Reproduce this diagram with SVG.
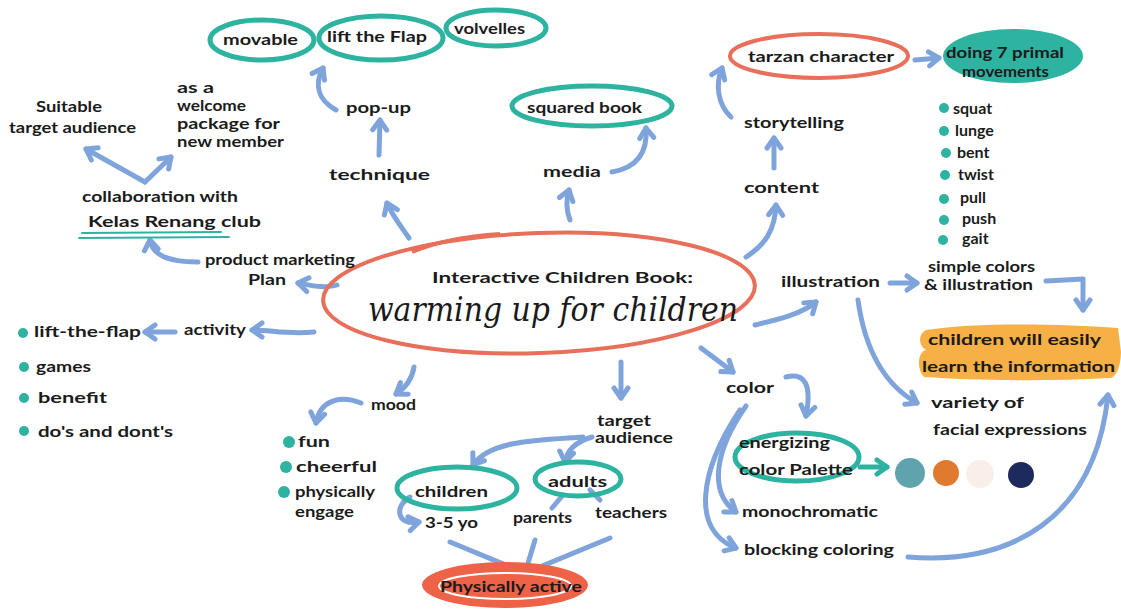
<svg xmlns="http://www.w3.org/2000/svg" width="1121" height="610" viewBox="0 0 1121 610">
<defs>
<style>
.t{font-family:Lato,"Open Sans","Liberation Sans",sans-serif;fill:#1b1b1b;font-size:16px;font-weight:700;}
.s{font-family:"DejaVu Serif","Liberation Serif",serif;font-style:italic;fill:#1b1b1b;}
.a{fill:none;stroke:#7fa3db;stroke-width:5;stroke-linecap:round;stroke-linejoin:round;marker-end:url(#ah);}
.l{fill:none;stroke:#7fa3db;stroke-width:5;stroke-linecap:round;}
.teal{fill:none;stroke:#2db3a0;stroke-width:5;}
.red{fill:none;stroke:#e8705a;stroke-width:4;}
.dot{fill:#2db3a0;}
</style>
<marker id="ah" viewBox="0 0 20 20" refX="14" refY="10" markerWidth="20" markerHeight="20" markerUnits="userSpaceOnUse" orient="auto">
<path d="M4,3 L14,10 L4,17" fill="none" stroke="#7fa3db" stroke-width="5" stroke-linecap="round" stroke-linejoin="round"/>
</marker>
<marker id="aht" viewBox="0 0 20 20" refX="14" refY="10" markerWidth="20" markerHeight="20" markerUnits="userSpaceOnUse" orient="auto">
<path d="M4,3 L14,10 L4,17" fill="none" stroke="#2db3a0" stroke-width="5" stroke-linecap="round" stroke-linejoin="round"/>
</marker>
</defs>
<rect width="1121" height="610" fill="#ffffff"/>

<g id="connectors">
<path class="a" d="M409,238 C400,225 392,215 387,203"/>
<path class="a" d="M379,155 L380,120"/>
<path class="a" d="M336,110 C318,100 314,85 323,68"/>
<path class="a" d="M570,220 C566,210 566,200 569,190"/>
<path class="a" d="M612,172 C635,168 648,155 646,128"/>
<path class="a" d="M746,257 C765,245 775,230 776,205"/>
<path class="a" d="M774,168 L774,138"/>
<path class="a" d="M731,117 C718,105 715,85 722,68"/>
<path class="a" d="M915,60 L939,58"/>
<path class="a" d="M755,325 C775,320 800,315 816,302"/>
<path class="a" d="M890,283 L917,283"/>
<path class="a" d="M1046,281 L1083,279 L1083,310"/>
<path class="a" d="M858,300 C865,350 885,385 917,403"/>
<path class="a" d="M908,557 C1010,565 1095,520 1108,395"/>
<path class="a" d="M701,348 L733,372"/>
<path class="a" d="M786,377 C805,372 812,385 806,416"/>
<path d="M860,467 L887,467" fill="none" stroke="#2db3a0" stroke-width="5" stroke-linecap="round" marker-end="url(#aht)"/>
<path class="a" d="M746,406 C715,450 708,492 736,512"/>
<path class="a" d="M740,410 C700,470 690,530 736,548"/>
<path class="a" d="M621,362 L621,398"/>
<path class="a" d="M583,437 C540,440 490,440 473,465"/>
<path class="a" d="M592,437 C575,442 567,450 565,462"/>
<path class="a" d="M410,497 C395,505 395,526 419,522"/>
<path class="l" d="M563,495 L552,508"/>
<path class="l" d="M590,490 L600,500"/>
<path class="l" d="M450,542 L525,573 L610,538"/>
<path class="l" d="M535,540 L525,573"/>
<path class="a" d="M414,367 C412,380 405,388 396,394"/>
<path class="a" d="M361,403 C340,395 320,400 316,423"/>
<path class="a" d="M314,332 C290,335 270,330 252,330"/>
<path class="a" d="M175,332 L145,332"/>
<path class="a" d="M337,285 C325,289 310,285 298,283"/>
<path class="a" d="M198,262 C170,262 152,255 150,240"/>
<path class="a" d="M145,182 L86,149"/>
<path class="a" d="M145,182 L171,157"/>
</g>

<g id="central">
<ellipse cx="539" cy="293" rx="216" ry="60" transform="rotate(-2 539 293)" class="red"/>
<path d="M412,252 C440,240 470,236 500,234" class="red" stroke-width="3"/>
<text class="t" x="432" y="283" font-size="20" font-weight="400" textLength="261" lengthAdjust="spacingAndGlyphs">Interactive Children Book:</text>
<text class="s" x="368" y="321" font-size="34" textLength="370" lengthAdjust="spacingAndGlyphs">warming up for children</text>
</g>

<g id="movable"><ellipse cx="262" cy="40" rx="52" ry="20" class="teal"/><text class="t" x="223" y="45" font-size="17" textLength="75" lengthAdjust="spacingAndGlyphs">movable</text></g>
<g id="lift-the-flap"><ellipse cx="381" cy="38" rx="62" ry="22" class="teal"/><text class="t" x="327" y="42" textLength="100" lengthAdjust="spacingAndGlyphs">lift the Flap</text></g>
<g id="volvelles"><ellipse cx="496" cy="28" rx="50" ry="18" class="teal"/><text class="t" x="454" y="34" textLength="71" lengthAdjust="spacingAndGlyphs">volvelles</text></g>
<g id="pop-up"><text class="t" x="346" y="113" font-size="18" textLength="65" lengthAdjust="spacingAndGlyphs">pop-up</text></g>
<g id="technique"><text class="t" x="329" y="180" font-size="23" font-weight="400" textLength="101" lengthAdjust="spacingAndGlyphs">technique</text></g>

<g id="squared-book"><ellipse cx="592" cy="106" rx="80" ry="20" class="teal"/><text class="t" x="527" y="113" font-size="17" textLength="115" lengthAdjust="spacingAndGlyphs">squared book</text></g>
<g id="media"><text class="t" x="543" y="177" font-size="21" font-weight="400" textLength="58" lengthAdjust="spacingAndGlyphs">media</text></g>

<g id="tarzan"><ellipse cx="819" cy="56" rx="89" ry="22" class="red" stroke-width="5"/><text class="t" x="748" y="62" font-size="17" textLength="146" lengthAdjust="spacingAndGlyphs">tarzan character</text></g>
<g id="primal"><ellipse cx="1013" cy="56" rx="70" ry="27" fill="#2db3a0"/><text class="t" x="946" y="58" font-size="15" textLength="118" lengthAdjust="spacingAndGlyphs">doing 7 primal</text><text class="t" x="962" y="77" font-size="14" textLength="87" lengthAdjust="spacingAndGlyphs">movements</text></g>
<g id="storytelling"><text class="t" x="744" y="128" textLength="100" lengthAdjust="spacingAndGlyphs">storytelling</text></g>
<g id="content"><text class="t" x="744" y="193" font-size="21" font-weight="400" textLength="75" lengthAdjust="spacingAndGlyphs">content</text></g>

<g id="movements-list">
<circle class="dot" cx="944" cy="108" r="5"/><text class="t" x="953" y="114">squat</text>
<circle class="dot" cx="944" cy="131" r="5"/><text class="t" x="955" y="136">lunge</text>
<circle class="dot" cx="946" cy="153" r="5"/><text class="t" x="957" y="158">bent</text>
<circle class="dot" cx="945" cy="175" r="5"/><text class="t" x="958" y="180">twist</text>
<circle class="dot" cx="944" cy="199" r="5"/><text class="t" x="960" y="203">pull</text>
<circle class="dot" cx="944" cy="220" r="5"/><text class="t" x="962" y="224">push</text>
<circle class="dot" cx="943" cy="240" r="5"/><text class="t" x="962" y="244">gait</text>
</g>

<g id="illustration"><text class="t" x="781" y="287" font-size="18" textLength="99" lengthAdjust="spacingAndGlyphs">illustration</text></g>
<g id="simple-colors"><text class="t" x="928" y="272" font-size="15" textLength="107" lengthAdjust="spacingAndGlyphs">simple colors</text><text class="t" x="924" y="290" font-size="15" textLength="109" lengthAdjust="spacingAndGlyphs">&amp; illustration</text></g>
<g id="learn-easily">
<path d="M926,330 C980,322 1060,324 1118,328 L1121,352 C1121,352 1121,376 1110,378 C1040,382 970,380 924,377 C916,368 918,352 926,350 C918,345 918,334 926,330 Z" fill="#f6b046"/>
<text class="t" x="928" y="345" font-size="17" textLength="173" lengthAdjust="spacingAndGlyphs">children will easily</text>
<text class="t" x="922" y="372" font-size="17" textLength="193" lengthAdjust="spacingAndGlyphs">learn the information</text>
</g>
<g id="variety"><text class="t" x="931" y="408" font-size="17" textLength="93" lengthAdjust="spacingAndGlyphs">variety of</text><text class="t" x="933" y="435" font-size="17" textLength="154" lengthAdjust="spacingAndGlyphs">facial expressions</text></g>

<g id="color"><text class="t" x="726" y="393" font-size="20" textLength="48" lengthAdjust="spacingAndGlyphs">color</text></g>
<g id="energizing"><ellipse cx="797" cy="457" rx="62" ry="24" class="teal"/><text class="t" x="739" y="448" textLength="91" lengthAdjust="spacingAndGlyphs">energizing</text><text class="t" x="739" y="475" textLength="114" lengthAdjust="spacingAndGlyphs">color Palette</text></g>
<g id="palette">
<circle cx="910" cy="473" r="15" fill="#5fa3ad"/>
<circle cx="946" cy="473" r="13" fill="#e07a2e"/>
<circle cx="980" cy="474" r="14" fill="#f9efe8"/>
<circle cx="1021" cy="475" r="13" fill="#1c2a5e"/>
</g>
<g id="monochromatic"><text class="t" x="742" y="517" font-size="17" textLength="136" lengthAdjust="spacingAndGlyphs">monochromatic</text></g>
<g id="blocking"><text class="t" x="744" y="555" font-size="17" textLength="150" lengthAdjust="spacingAndGlyphs">blocking coloring</text></g>

<g id="target-audience"><text class="t" x="597" y="426" font-size="14" textLength="54" lengthAdjust="spacingAndGlyphs">target</text><text class="t" x="595" y="443" font-size="14" textLength="78" lengthAdjust="spacingAndGlyphs">audience</text></g>
<g id="children"><ellipse cx="457" cy="488" rx="60" ry="21" class="teal"/><text class="t" x="415" y="497" font-size="18" textLength="73" lengthAdjust="spacingAndGlyphs">children</text></g>
<g id="adults"><ellipse cx="578" cy="479" rx="43" ry="17" class="teal"/><text class="t" x="548" y="487" font-size="18" textLength="59" lengthAdjust="spacingAndGlyphs">adults</text></g>
<g id="age"><text class="t" x="425" y="528" textLength="53" lengthAdjust="spacingAndGlyphs">3-5 yo</text></g>
<g id="parents"><text class="t" x="513" y="523" textLength="59" lengthAdjust="spacingAndGlyphs">parents</text></g>
<g id="teachers"><text class="t" x="595" y="518" font-size="17" textLength="72" lengthAdjust="spacingAndGlyphs">teachers</text></g>
<g id="physically-active">
<ellipse cx="505" cy="585" rx="83" ry="23" fill="#ee6248"/>
<ellipse cx="505" cy="586" rx="66" ry="13" fill="none" stroke="#ffffff" stroke-width="2"/>
<text class="t" x="440" y="592" textLength="142" lengthAdjust="spacingAndGlyphs">Physically active</text>
</g>

<g id="mood"><text class="t" x="371" y="410" font-size="18" textLength="45" lengthAdjust="spacingAndGlyphs">mood</text></g>
<g id="mood-list">
<circle class="dot" cx="289" cy="442" r="6"/><text class="t" x="298" y="447" font-size="17" textLength="32" lengthAdjust="spacingAndGlyphs">fun</text>
<circle class="dot" cx="286" cy="467" r="6"/><text class="t" x="296" y="472" font-size="17" textLength="81" lengthAdjust="spacingAndGlyphs">cheerful</text>
<circle class="dot" cx="284" cy="492" r="6"/><text class="t" x="295" y="497" textLength="80" lengthAdjust="spacingAndGlyphs">physically</text><text class="t" x="295" y="517" textLength="59" lengthAdjust="spacingAndGlyphs">engage</text>
</g>

<g id="activity"><text class="t" x="184" y="335" font-size="17" textLength="62" lengthAdjust="spacingAndGlyphs">activity</text></g>
<g id="activity-list">
<circle class="dot" cx="23" cy="333" r="5"/><text class="t" x="34" y="337" textLength="107" lengthAdjust="spacingAndGlyphs">lift-the-flap</text>
<circle class="dot" cx="24" cy="367" r="5"/><text class="t" x="36" y="372" font-size="17" textLength="55" lengthAdjust="spacingAndGlyphs">games</text>
<circle class="dot" cx="24" cy="398" r="5"/><text class="t" x="38" y="403" font-size="18" textLength="69" lengthAdjust="spacingAndGlyphs">benefit</text>
<circle class="dot" cx="24" cy="431" r="5"/><text class="t" x="38" y="437" font-size="17" textLength="135" lengthAdjust="spacingAndGlyphs">do's  and dont's</text>
</g>

<g id="marketing"><text class="t" x="205" y="265" textLength="150" lengthAdjust="spacingAndGlyphs">product marketing</text><text class="t" x="248" y="285" textLength="38" lengthAdjust="spacingAndGlyphs">Plan</text></g>
<g id="collaboration">
<text class="t" x="82" y="202" font-size="17" textLength="156" lengthAdjust="spacingAndGlyphs">collaboration with</text>
<text class="t" x="88" y="227" font-size="18" textLength="173" lengthAdjust="spacingAndGlyphs">Kelas Renang club</text>
<path d="M82,233 L221,232 M79,238 L229,237" fill="none" stroke="#2db3a0" stroke-width="2" stroke-linecap="round"/>
</g>
<g id="suitable"><text class="t" x="36" y="112" font-size="15" textLength="66" lengthAdjust="spacingAndGlyphs">Suitable</text><text class="t" x="9" y="133" font-size="15" textLength="127" lengthAdjust="spacingAndGlyphs">target audience</text></g>
<g id="welcome">
<text class="t" x="177" y="93" font-size="15" textLength="37" lengthAdjust="spacingAndGlyphs">as a</text>
<text class="t" x="177" y="111" font-size="15" textLength="69" lengthAdjust="spacingAndGlyphs">welcome</text>
<text class="t" x="177" y="129" font-size="15" textLength="103" lengthAdjust="spacingAndGlyphs">package for</text>
<text class="t" x="177" y="147" font-size="15" textLength="107" lengthAdjust="spacingAndGlyphs">new member</text>
</g>
</svg>
